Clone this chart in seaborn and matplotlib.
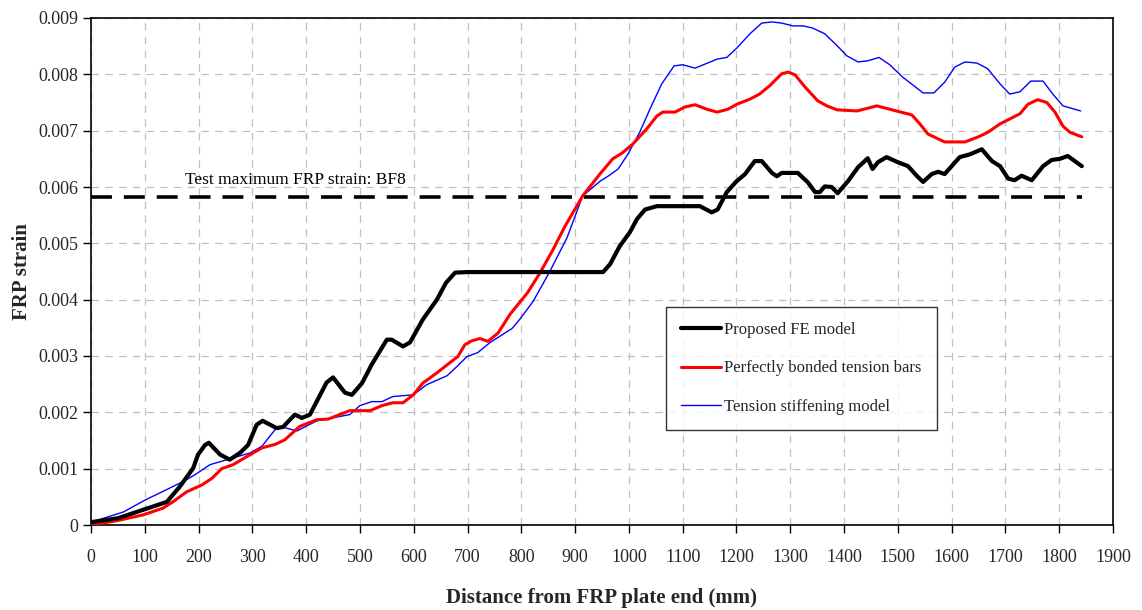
import matplotlib
matplotlib.use("Agg")
import matplotlib.pyplot as plt
import seaborn as sns
import pandas as pd
from matplotlib.ticker import FixedLocator, FuncFormatter

# ---------------- data ----------------
fe_x = [0, 50, 97, 141, 165, 190, 199, 212, 219, 240, 258, 277, 292, 308, 319, 345, 357, 379, 392, 407,
        438, 450, 472, 485, 504, 522, 550, 559, 580, 593, 617, 643, 660, 677, 700, 952, 965, 983, 1002,
        1015, 1030, 1052, 1132, 1154, 1165, 1182, 1200, 1216, 1234, 1247, 1266, 1275, 1284, 1314, 1333,
        1346, 1355, 1364, 1377, 1388, 1407, 1426, 1444, 1453, 1463, 1479, 1500, 1519, 1535, 1547, 1563,
        1575, 1587, 1615, 1634, 1656, 1675, 1690, 1705, 1717, 1730, 1749, 1770, 1786, 1801, 1816, 1842]
fe_y = [0.00005, 0.00012, 0.00027, 0.00041, 0.00068, 0.00101, 0.00125, 0.00142, 0.00146, 0.00125,
        0.00116, 0.00128, 0.00142, 0.00178, 0.00185, 0.00172, 0.00174, 0.00196, 0.00190, 0.00196,
        0.00253, 0.00262, 0.00235, 0.00231, 0.00252, 0.00285, 0.00329, 0.00329, 0.00317, 0.00324,
        0.00365, 0.00400, 0.00430, 0.00448, 0.00449, 0.00449, 0.00463, 0.00495, 0.00520,
        0.00543, 0.00560, 0.00566, 0.00566, 0.00555, 0.00560, 0.00591, 0.00610, 0.00623, 0.00646,
        0.00646, 0.00625, 0.00619, 0.00625, 0.00625, 0.00608, 0.00591, 0.00591, 0.00601, 0.00600,
        0.00589, 0.00610, 0.00635, 0.00651, 0.00632, 0.00644, 0.00653, 0.00644, 0.00637, 0.00620,
        0.00609, 0.00623, 0.00627, 0.00623, 0.00653, 0.00658, 0.00667, 0.00646, 0.00637, 0.00615,
        0.00612, 0.00620, 0.00612, 0.00637, 0.00648, 0.00650, 0.00655, 0.00637]

pb_x = [0, 50, 97, 134, 152, 178, 206, 225, 243, 264, 296, 318, 342, 360, 388, 420, 441, 481, 519, 541,
        561, 580, 599, 617, 643, 667, 682, 695, 708, 723, 738, 757, 779, 812, 835, 859, 881, 903, 914,
        946, 970, 987, 1007, 1033, 1052, 1063, 1086, 1104, 1123, 1145, 1164, 1184, 1201, 1225, 1243,
        1262, 1284, 1296, 1309, 1327, 1351, 1368, 1387, 1424, 1461, 1485, 1526, 1541, 1556, 1587, 1625,
        1652, 1667, 1690, 1727, 1742, 1760, 1777, 1792, 1807, 1820, 1842]
pb_y = [0.0, 0.00008, 0.00018, 0.00030, 0.00041, 0.00059, 0.00071, 0.00083, 0.00100, 0.00107, 0.00125,
        0.00137, 0.00143, 0.00151, 0.00175, 0.00187, 0.00188, 0.00203, 0.00203, 0.00212, 0.00217,
        0.00217, 0.00231, 0.00252, 0.00270, 0.00288, 0.00299, 0.00320, 0.00327, 0.00331, 0.00326,
        0.00341, 0.00374, 0.00413, 0.00448, 0.00489, 0.00530, 0.00566, 0.00584, 0.00623, 0.00650,
        0.00660, 0.00676, 0.00703, 0.00726, 0.00733, 0.00733, 0.00742, 0.00746, 0.00738, 0.00733,
        0.00738, 0.00747, 0.00756, 0.00765, 0.00780, 0.00801, 0.00804, 0.00799, 0.00778, 0.00753,
        0.00744, 0.00737, 0.00735, 0.00744, 0.00738, 0.00728, 0.00712, 0.00694, 0.00680, 0.00680,
        0.00690, 0.00697, 0.00712, 0.00730, 0.00747, 0.00755, 0.00750, 0.00733, 0.00708, 0.00697,
        0.00689]

ts_x = [0, 60, 100, 141, 171, 193, 221, 253, 296, 318, 342, 355, 383, 420, 481, 500, 522, 541, 561, 599,
        624, 662, 680, 699, 719, 742, 783, 797, 822, 853, 885, 914, 946, 961, 980, 998, 1020, 1039,
        1061, 1084, 1100, 1123, 1141, 1164, 1182, 1201, 1225, 1247, 1266, 1284, 1305, 1324, 1342, 1364,
        1387, 1405, 1426, 1444, 1465, 1485, 1509, 1528, 1547, 1567, 1587, 1606, 1625, 1647, 1667, 1690,
        1708, 1727, 1747, 1770, 1788, 1807, 1840]
ts_y = [0.00005, 0.00023, 0.00044, 0.00063, 0.00077, 0.00089, 0.00107, 0.00116, 0.00128, 0.00140,
        0.00169, 0.00174, 0.00167, 0.00185, 0.00196, 0.00212, 0.00219, 0.00219, 0.00228, 0.00231,
        0.00249, 0.00265, 0.00281, 0.00299, 0.00306, 0.00324, 0.00349, 0.00365, 0.00397, 0.00450,
        0.00510, 0.00584, 0.00610, 0.00619, 0.00632, 0.00658, 0.00697, 0.00738, 0.00783, 0.00815,
        0.00817, 0.00811, 0.00818, 0.00827, 0.00830, 0.00847, 0.00872, 0.00891, 0.00893, 0.00891,
        0.00886, 0.00886, 0.00882, 0.00872, 0.00851, 0.00833, 0.00822, 0.00824, 0.00830, 0.00817,
        0.00795, 0.00781, 0.00767, 0.00767, 0.00786, 0.00813, 0.00822, 0.00820, 0.00810, 0.00783,
        0.00765, 0.00769, 0.00788, 0.00788, 0.00765, 0.00744, 0.00735]

test_x = [0, 1842]
test_y = [0.00582, 0.00582]
test_label = "Test maximum FRP strain: BF8"

labels = ["Proposed FE model", "Perfectly bonded tension bars", "Tension stiffening model"]
x_ticks = list(range(0, 2000, 100))
y_ticks = [0, 0.001, 0.002, 0.003, 0.004, 0.005, 0.006, 0.007, 0.008, 0.009]

# ---------------- style ----------------
sns.set_theme(style="white")
plt.rcParams["font.family"] = ["Liberation Serif", "DejaVu Serif"]
plt.rcParams["axes.edgecolor"] = "black"

fig = plt.figure(figsize=(11.42, 6.10), dpi=100)
ax = fig.add_axes([91 / 1142, 1 - 525 / 610, 1022 / 1142, 507 / 610])

df_fe = pd.DataFrame({"x": fe_x, "y": fe_y})
df_pb = pd.DataFrame({"x": pb_x, "y": pb_y})
df_ts = pd.DataFrame({"x": ts_x, "y": ts_y})
df_test = pd.DataFrame({"x": test_x, "y": test_y})

sns.lineplot(data=df_test, x="x", y="y", ax=ax, color="black", lw=2.6, sort=False,
             estimator=None, dashes=False, zorder=2).lines[-1].set_dashes((5.8, 3.3))
sns.lineplot(data=df_ts, x="x", y="y", ax=ax, color="#0000ff", lw=1.0, sort=False,
             estimator=None, label=labels[2], zorder=3)
sns.lineplot(data=df_pb, x="x", y="y", ax=ax, color="#ff0000", lw=2.2, sort=False,
             estimator=None, label=labels[1], zorder=4)
sns.lineplot(data=df_fe, x="x", y="y", ax=ax, color="black", lw=3.0, sort=False,
             estimator=None, label=labels[0], zorder=5)

ax.text(175, 0.00613, test_label, fontsize=12.5, va="center", ha="left", color="black")

ax.set_xlim(0, 1900)
ax.set_ylim(0, 0.009)
ax.xaxis.set_major_locator(FixedLocator(x_ticks))
ax.yaxis.set_major_locator(FixedLocator(y_ticks))
ax.yaxis.set_major_formatter(FuncFormatter(lambda v, p: "0" if abs(v) < 1e-12 else f"{v:.3f}"))
ax.grid(True, color="#c0c0c0", linestyle=(0, (6, 5)), linewidth=0.9)
ax.set_axisbelow(True)
for s in ax.spines.values():
    s.set_linewidth(1.2)
    s.set_color("black")
ax.tick_params(axis="both", direction="out", length=6, width=1.0, color="black",
               labelsize=13, pad=3, bottom=True, left=True)
ax.tick_params(axis="x", pad=11)

ax.set_xlabel("Distance from FRP plate end (mm)", fontsize=15, fontweight="bold")
ax.set_ylabel("FRP strain", fontsize=15, fontweight="bold")
ax.yaxis.set_label_coords(-0.058, 0.5)
ax.xaxis.set_label_coords(0.5, -0.125)

handles, labs = ax.get_legend_handles_labels()
order = [labs.index(l) for l in labels]
leg = ax.legend([handles[i] for i in order], [labs[i] for i in order],
                loc="upper left", bbox_to_anchor=((666 - 91) / 1022, (525 - 307) / 507),
                fontsize=12, frameon=True, fancybox=False, edgecolor="black",
                labelspacing=1.35, handlelength=2.4, handletextpad=0.2,
                borderpad=0.9, borderaxespad=0)
leg.get_frame().set_linewidth(1.0)

fig.savefig("out.png", dpi=100)
